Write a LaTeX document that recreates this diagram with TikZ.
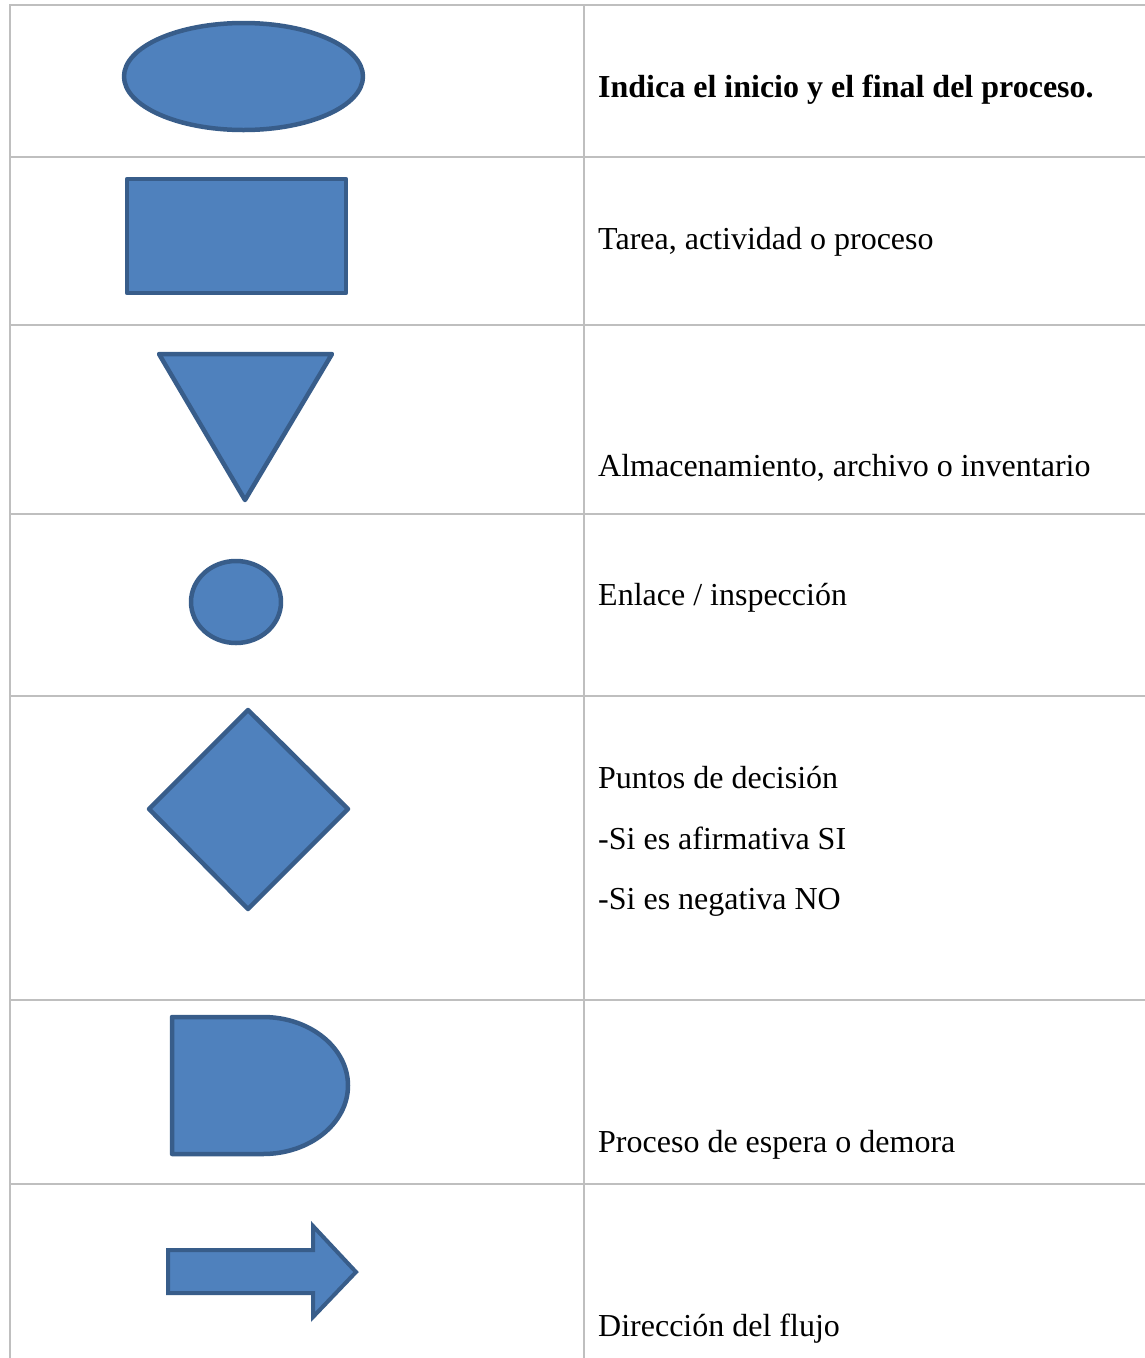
\documentclass[tikz,border=0pt]{standalone}
\usepackage{fontspec}
\setmainfont{Liberation Serif}
\definecolor{shapefill}{HTML}{4F81BD}
\definecolor{shapeline}{HTML}{385D8A}
\definecolor{gridline}{HTML}{BFBFBF}
\tikzset{
  symb/.style={fill=shapefill, draw=shapeline, line width=4.5pt, line join=round},
  grid line/.style={draw=gridline, line width=2pt},
  desc/.style={anchor=base west, inner sep=0pt, font=\fontsize{32}{38}\selectfont}
}
\begin{document}
\begin{tikzpicture}[x=1pt,y=-1pt]
\useasboundingbox (0,0) rectangle (1145,1358);
% table grid
\foreach \yy in {5,157,325,514,696,1000,1184}
  \draw[grid line] (10,\yy) -- (1145,\yy);
\draw[grid line] (10,4) -- (10,1358);
\draw[grid line] (584,4) -- (584,1358);
% symbols
\draw[symb] (243.5,76.5) ellipse [x radius=119.5, y radius=53.5];
\draw[symb] (127,179) rectangle (346,293);
\draw[symb] (159,354) -- (332,354) -- (245,500) -- cycle;
\draw[symb] (236,602) ellipse [x radius=45, y radius=41];
\draw[symb] (248,710) -- (348,809) -- (248,909) -- (149,809) -- cycle;
\draw[symb] (172,1017) -- (263,1017)
  .. controls (309.9,1017) and (348,1047.7) .. (348,1085.5)
  .. controls (348,1123.3) and (309.9,1154) .. (263,1154)
  -- (172,1154) -- cycle;
\draw[symb, line width=4pt, line join=miter] (168,1250) -- (313,1250) -- (313,1226) -- (356,1272)
  -- (313,1317) -- (313,1293) -- (168,1293) -- cycle;
% descriptions
\node[desc] (t1) at (598,97) {\textbf{Indica el inicio y el final del proceso.}};
\node[desc] (t2) at (598,249) {Tarea, actividad o proceso};
\node[desc] (t3) at (598,476) {Almacenamiento, archivo o inventario};
\node[desc] (t4) at (598,605) {Enlace / inspección};
\node[desc] (t5a) at (598,788) {Puntos de decisión};
\node[desc] (t5b) at (598,849) {-Si es afirmativa SI};
\node[desc] (t5c) at (598,909) {-Si es negativa NO};
\node[desc] (t6) at (598,1152) {Proceso de espera o demora};
\node[desc] (t7) at (598,1336) {Dirección del flujo};
\end{tikzpicture}
\end{document}
